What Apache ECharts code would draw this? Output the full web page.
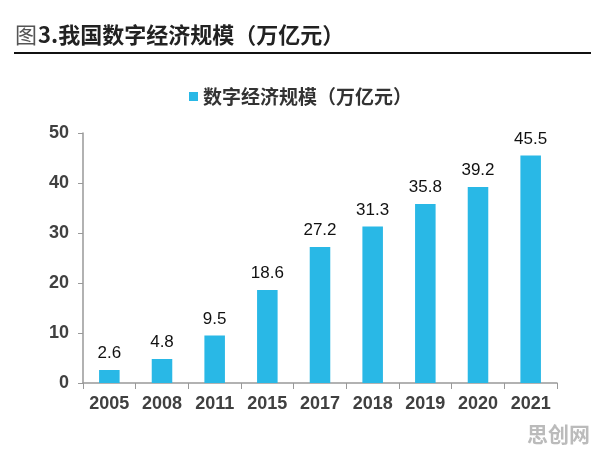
<!DOCTYPE html>
<html><head><meta charset="utf-8">
<script src="https://cdn.jsdelivr.net/npm/echarts@6/dist/echarts.min.js"></script>
<style>html,body{margin:0;padding:0;background:#fff}#c{width:596px;height:450px}</style>
</head><body><div id="c"></div>
<script>
const categories = ['2005','2008','2011','2015','2017','2018','2019','2020','2021'];
const values = [2.6, 4.8, 9.5, 18.6, 27.2, 31.3, 35.8, 39.2, 45.5];
const yTicks = [0, 10, 20, 30, 40, 50];
const seriesName = '数字经济规模（万亿元）';
const titleText = '3.我国数字经济规模（万亿元）';

const chart = echarts.init(document.getElementById('c'));
chart.setOption({
  animation: false,
  backgroundColor: '#fff',
  graphic: [
    {type:'text', left: 15, top: 24, style:{text:'图', font:'22px "Noto Sans CJK SC"', fill:'#555'}},
    {type:'text', left: 38, top: 24, style:{text: titleText, font:'bold 22px "Noto Sans CJK SC"', fill:'#222'}},
    {type:'line', shape:{x1:14, y1:53, x2:591, y2:53}, style:{stroke:'#111', lineWidth:2}},
    {type:'text', right: 6, top: 424, style:{text:'思创网', font:'bold 21px "Noto Sans CJK SC"', fill:'#bbb'}}
  ],
  legend: {
    top: 82, left: 184,
    itemWidth: 9, itemHeight: 9, itemGap: 4,
    icon: 'rect',
    textStyle: {fontFamily:'"Noto Sans CJK SC"', fontSize: 19, fontWeight:'bold', color:'#333'},
    data: [seriesName]
  },
  grid: {left: 83, right: 39, top: 133, bottom: 67},
  xAxis: {
    type: 'category', data: categories,
    axisLine: {lineStyle:{color:'#999', width:1.5}},
    axisTick: {show:true, alignWithLabel:false, length:6, lineStyle:{color:'#999'}},
    axisLabel: {interval: 0, fontFamily:'"Liberation Sans", Arial', fontSize: 18, fontWeight:'bold', color:'#404040', margin: 12}
  },
  yAxis: {
    type: 'value', min: yTicks[0], max: yTicks[yTicks.length-1], interval: 10,
    splitLine: {show:false},
    axisLine: {show:true, lineStyle:{color:'#999', width:1.5}},
    axisTick: {show:true, inside:false, length:5, lineStyle:{color:'#999'}},
    axisLabel: {fontFamily:'"Liberation Sans", Arial', fontSize: 18, fontWeight:'bold', color:'#404040', margin: 14}
  },
  series: [{
    name: seriesName, type: 'bar', data: values,
    barWidth: '39%',
    itemStyle: {color: '#29B8E6'},
    label: {show: true, position: 'top', distance: 8, fontFamily:'"Liberation Sans", Arial', fontSize: 17, color:'#111'}
  }]
});
</script></body></html>
